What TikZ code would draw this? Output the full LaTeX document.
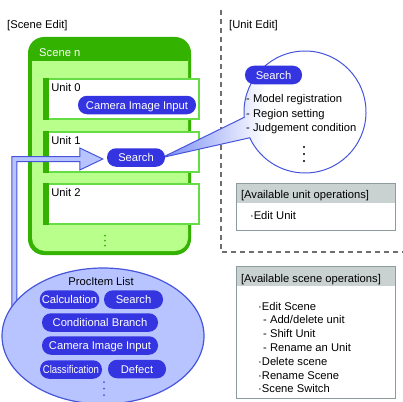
\documentclass[tikz,border=0pt]{standalone}
\usepackage{fontspec}
\setmainfont{Liberation Sans}
\usetikzlibrary{shapes.geometric,calc}
\pgfdeclarelayer{front}
\pgfsetlayers{main,front}
\definecolor{sceneDark}{RGB}{51,179,0}
\definecolor{sceneLight}{RGB}{185,255,140}
\definecolor{unitEdge}{RGB}{102,221,68}
\definecolor{pillBlue}{RGB}{52,52,224}
\definecolor{listFill}{RGB}{184,196,255}
\definecolor{listEdge}{RGB}{70,85,220}
\definecolor{bubbleBlue}{RGB}{120,140,245}
\definecolor{opsHead}{RGB}{201,209,209}
\definecolor{opsEdge}{RGB}{140,155,155}
\definecolor{dashGray}{RGB}{110,110,110}
\newcommand{\diagFont}{\fontsize{11.2}{14}\selectfont}
\tikzset{
  pill/.style={fill=pillBlue, text=white, rounded corners=9pt, minimum height=18.5pt, inner xsep=2pt, inner ysep=0pt, text height=8pt, text depth=0pt},
  unitBox/.style={draw=unitEdge, line width=1.3pt, fill=white, minimum width=155pt, minimum height=40pt},
  opsBox/.style={draw=opsEdge, line width=1pt, fill=white, minimum width=159pt, path picture={\fill[opsHead] (path picture bounding box.north west) rectangle ([yshift=-20pt]path picture bounding box.north east);}},
  hollowArrow/.style={draw=listEdge, fill=listFill, line width=1pt, line join=miter},
  bubble/.style={draw=listEdge, line width=1pt, left color=bubbleBlue, right color=white, middle color=white}
}

\begin{document}
\begin{tikzpicture}[x=1pt,y=-1pt,font=\diagFont]
\useasboundingbox (0,0) rectangle (403,401);
\node[anchor=west] (sceneEditLabel) at (3.7,26) {[Scene Edit]};
\node[anchor=west] (unitEditLabel) at (225.7,26) {[Unit Edit]};
\draw[dashGray, line width=1.2pt, dash pattern=on 5pt off 4pt] (221,10) -- (221,252) -- (403,252);
\fill[sceneDark, rounded corners=16pt] (28,37) rectangle (191,255);
\fill[sceneLight, rounded corners=13pt] (32,45) rectangle (188,251);
\fill[sceneDark] (32,44) rectangle (188,61);
\node[anchor=west, text=white] (sceneTitle) at (35.7,52.5) {Scene n};
\node[unitBox] (unit0) at (121.5,99) {};
\node[unitBox] (unit1) at (121.5,152) {};
\node[unitBox] (unit2) at (121.5,204) {};
\foreach \u in {0,1,2} {
  \fill[sceneDark] (unit\u.north west) rectangle ([xshift=5.5pt]unit\u.south west);
  \node[anchor=base west] (unitLabel\u) at ([xshift=4.5pt,yshift=-13.5pt]unit\u.north west) {Unit \u};
}
\foreach \k in {0,1,2}
  \fill[sceneDark] (105,235.5+5*\k) circle (1pt);
\begin{pgfonlayer}{front}
\node[pill, minimum width=118pt] (camA) at (137,105) {Camera Image Input};
\node[pill, minimum width=58pt] (srchA) at (136,157.5) {Search};
\node[pill, minimum width=57pt] (srchB) at (273.5,75) {Search};
\node[pill, minimum width=59pt] (calc) at (69.5,299.5) {Calculation};
\node[pill, minimum width=59pt] (srchC) at (133.5,299.5) {Search};
\node[pill, minimum width=116pt] (condBranch) at (100,322.5) {Conditional Branch};
\node[pill, minimum width=116pt] (camB) at (100,345.5) {Camera Image Input};
\node[pill, minimum width=62pt] (classif) at (71,369.5) {\scalebox{0.85}[1]{Classification}};
\node[pill, minimum width=58pt] (defect) at (137,369) {Defect};
\end{pgfonlayer}
\draw[hollowArrow] ([xshift=-4pt,yshift=-1.5pt]srchA.west) -- ++(-23,-11) -- ++(0,8.5) -- ++(-68,0) -- ++(0,160) -- ++(5,0) -- ++(0,-155) -- ++(63,0) -- ++(0,8.5) -- cycle;
\node[ellipse, draw=listEdge, fill=listFill, line width=1.2pt, minimum width=202pt, minimum height=136pt, inner sep=0pt] (procList) at (103,336) {};
\node (procTitle) at (101,281) {ProcItem List};
\foreach \k in {0,1,2}
  \fill[listEdge] (104,382+6.5*\k) circle (1pt);
\coordinate (bubbleCentre) at (305,112);
\draw[bubble] ([xshift=-3pt]srchA.east) -- ($(bubbleCentre)+(175:61)$) arc[start angle=175, end angle=515, radius=61] -- cycle;
\foreach \t [count=\i] in {- Model registration, - Region setting, - Judgement condition}
  \node[anchor=base west, inner sep=0pt] (searchStep\i) at (246,88+14.5*\i) {\t};
\foreach \k in {0,1,2}
  \fill (304,147+7*\k) circle (1.1pt);
\node[opsBox, minimum height=47pt] (unitOps) at (315.5,206.5) {};
\node[anchor=west] (unitOpsHead) at ([xshift=2pt,yshift=-13.5pt]unitOps.north west) {[Available unit operations]};
\node[anchor=west] (editUnit) at ([xshift=11pt,yshift=-32.5pt]unitOps.north west) {·Edit Unit};
\node[opsBox, minimum height=132pt] (sceneOps) at (315.5,332) {};
\node[anchor=west] (sceneOpsHead) at ([xshift=2pt,yshift=-14.5pt]sceneOps.north west) {[Available scene operations]};
\foreach \t [count=\i] in {·Edit Scene, \hspace{5pt}- Add/delete unit, \hspace{5pt}- Shift Unit, \hspace{5pt}- Rename an Unit, ·Delete scene, ·Rename Scene, ·Scene Switch}
  \node[anchor=base west, inner sep=0pt] (sceneOp\i) at (258,296.2+13.8*\i) {\t};
\end{tikzpicture}
\end{document}
